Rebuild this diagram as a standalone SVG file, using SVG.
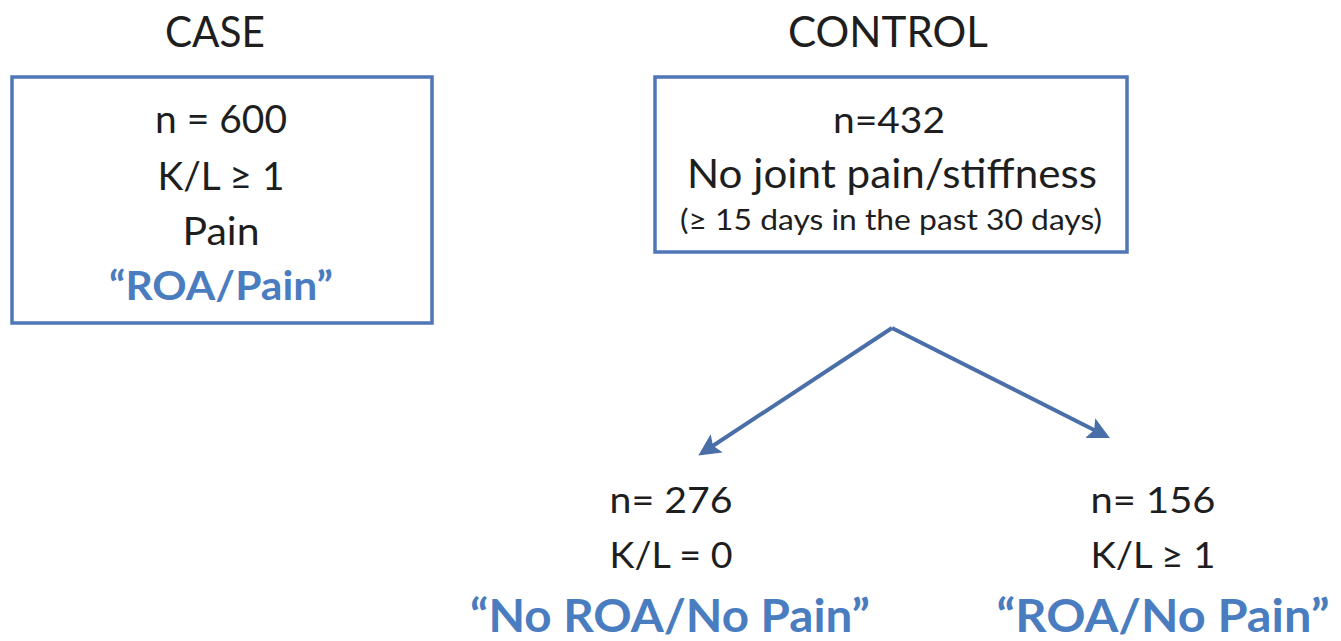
<svg xmlns="http://www.w3.org/2000/svg" width="1341" height="641" viewBox="0 0 1341 641">
<style>
.t{font-family:Lato,"Liberation Sans",sans-serif;fill:#1e1e1e;text-anchor:middle}
.b{fill:#4a7cc0;font-weight:bold}
.box{fill:#fff;stroke:#4f76b6;stroke-width:3.5}
.c{stroke:#4a6fa8;stroke-width:4;fill:none}
</style>
<defs>
<marker id="ah" viewBox="0 0 10 10" refX="8" refY="5" markerWidth="5.5" markerHeight="5.5" orient="auto" markerUnits="strokeWidth">
<path d="M0,0 L10,5 L0,10 L2,5 z" fill="#4a6fa8"/>
</marker>
</defs>
<rect width="1341" height="641" fill="#fff"/>
<g id="case">
<text class="t" x="215" y="47" font-size="42" textLength="100" lengthAdjust="spacingAndGlyphs">CASE</text>
<rect class="box" x="12" y="77" width="420" height="246"/>
<text class="t" x="221" y="133" font-size="38" textLength="132" lengthAdjust="spacingAndGlyphs">n = 600</text>
<text class="t" x="221" y="190" font-size="38" textLength="127" lengthAdjust="spacingAndGlyphs">K/L ≥ 1</text>
<text class="t" x="221" y="245" font-size="38" textLength="77" lengthAdjust="spacingAndGlyphs">Pain</text>
<text class="t b" x="221" y="300" font-size="40" textLength="224" lengthAdjust="spacingAndGlyphs">“ROA/Pain”</text>
</g>
<g id="control">
<text class="t" x="888" y="47" font-size="42" textLength="200" lengthAdjust="spacingAndGlyphs">CONTROL</text>
<rect class="box" x="655" y="77" width="472" height="175"/>
<text class="t" x="889" y="133" font-size="37" textLength="112" lengthAdjust="spacingAndGlyphs">n=432</text>
<text class="t" x="892" y="188" font-size="41" textLength="410" lengthAdjust="spacingAndGlyphs">No joint pain/stiffness</text>
<text class="t" x="891" y="230" font-size="28" textLength="422" lengthAdjust="spacingAndGlyphs">(≥ 15 days in the past 30 days)</text>
</g>
<g id="noroa">
<text class="t" x="671" y="513" font-size="37" textLength="123" lengthAdjust="spacingAndGlyphs">n= 276</text>
<text class="t" x="671" y="568" font-size="37" textLength="123" lengthAdjust="spacingAndGlyphs">K/L = 0</text>
<text class="t b" x="670" y="632" font-size="45" textLength="400" lengthAdjust="spacingAndGlyphs">“No ROA/No Pain”</text>
</g>
<g id="roa">
<text class="t" x="1153" y="513" font-size="37" textLength="125" lengthAdjust="spacingAndGlyphs">n= 156</text>
<text class="t" x="1153" y="568" font-size="37" textLength="125" lengthAdjust="spacingAndGlyphs">K/L ≥ 1</text>
<text class="t b" x="1163" y="632" font-size="45" textLength="333" lengthAdjust="spacingAndGlyphs">“ROA/No Pain”</text>
</g>
<g id="connectors">
<path class="c" d="M892,328 L702,453" marker-end="url(#ah)"/>
<path class="c" d="M892,328 L1106,436" marker-end="url(#ah)"/>
</g>
</svg>
